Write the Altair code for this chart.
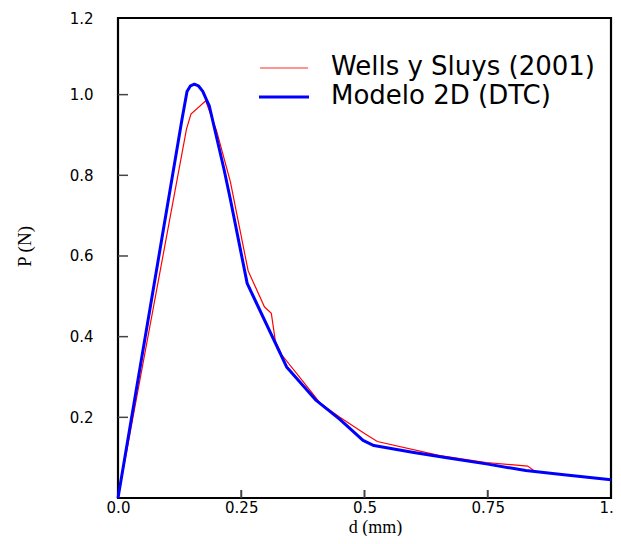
import altair as alt
import pandas as pd

# Wells y Sluys (2001) -- experimental curve
wells_d = [0.0, 0.139, 0.148, 0.178, 0.200, 0.228, 0.264, 0.297, 0.311, 0.319, 0.332, 0.376,
           0.410, 0.450, 0.500, 0.526, 0.653, 0.747, 0.831, 0.846, 0.900, 1.0]
wells_p = [0.0, 0.915, 0.952, 0.985, 0.910, 0.784, 0.563, 0.474, 0.458, 0.390, 0.355, 0.288,
           0.235, 0.200, 0.160, 0.140, 0.105, 0.088, 0.079, 0.066, 0.058, 0.045]

# Modelo 2D (DTC)
model_d = [0.0, 0.130, 0.140, 0.147, 0.155, 0.163, 0.172, 0.180, 0.185, 0.215, 0.228, 0.262,
           0.342, 0.402, 0.450, 0.497, 0.519, 0.600, 0.667, 0.750, 0.827, 0.900, 1.0]
model_p = [0.0, 0.940, 1.008, 1.022, 1.026, 1.022, 1.008, 0.986, 0.973, 0.815, 0.740, 0.532,
           0.325, 0.242, 0.195, 0.143, 0.130, 0.113, 0.100, 0.084, 0.068, 0.058, 0.045]

series_names = ["Wells y Sluys (2001)", "Modelo 2D (DTC)"]
series_colors = ["#ff0000", "#0000ff"]

x_ticks = [0.0, 0.25, 0.5, 0.75, 1.0]
x_inner_ticks = [0.25, 0.5, 0.75]
y_top = 1.19
y_ticks = [0.2, 0.4, 0.6, 0.8, 1.0, y_top]
y_inner_ticks = [0.2, 0.4, 0.6, 0.8, 1.0]

df = pd.concat([
    pd.DataFrame({"d": wells_d, "P": wells_p, "serie": series_names[0], "o": range(len(wells_d))}),
    pd.DataFrame({"d": model_d, "P": model_p, "serie": series_names[1], "o": range(len(model_d))}),
])

W, H = 493, 480

xscale = alt.Scale(domain=[0, 1.0], nice=False, zero=False)
yscale = alt.Scale(domain=[0, y_top], nice=False, zero=False)

xaxis = alt.Axis(
    title="d (mm)", values=x_ticks, grid=False, ticks=False, domain=False,
    labelExpr="datum.value == 0 ? '0.0' : datum.value == 1 ? '1.0' : toString(datum.value)",
    labelFont="DejaVu Sans", labelFontSize=15, labelColor="#000", labelPadding=2,
    labelFlush=False, labelOverlap=False,
    titleFont="Liberation Serif", titleFontSize=18, titleFontWeight="normal", titleColor="#000",
    titleX=257, titleY=29, titleBaseline="middle", titleAlign="center",
)
yaxis = alt.Axis(
    title="P (N)", values=y_ticks, format=".1f", grid=False, ticks=False, domain=False,
    labelFont="DejaVu Sans", labelFontSize=15, labelColor="#000", labelPadding=25,
    labelFlush=False, labelOverlap=False,
    titleFont="Liberation Serif", titleFontSize=19, titleFontWeight="normal", titleColor="#000",
    titleX=-94, titleY=228, titleBaseline="middle", titleAlign="center", titleAngle=270,
)

X = alt.X("d:Q", scale=xscale, axis=xaxis)
Y = alt.Y("P:Q", scale=yscale, axis=yaxis)

wells = alt.Chart(df[df.serie == series_names[0]]).mark_line(
    color=series_colors[0], strokeWidth=1.2
).encode(x=X, y=Y, order="o:Q")

model = alt.Chart(df[df.serie == series_names[1]]).mark_line(
    color=series_colors[1], strokeWidth=3, strokeJoin="round"
).encode(x=X, y=Y, order="o:Q")

ytk = alt.Chart(pd.DataFrame({"P": y_inner_ticks})).mark_rule(color="#444", strokeWidth=1.5).encode(
    y=Y, x=alt.value(0), x2=alt.value(10))
xtk = alt.Chart(pd.DataFrame({"d": x_inner_ticks})).mark_rule(color="#444", strokeWidth=2).encode(
    x=X, y=alt.value(H), y2=alt.value(H - 8))

leg_df = pd.DataFrame({"label": series_names, "color": series_colors})
leg_red_line = alt.Chart(leg_df.iloc[[0]]).mark_rule(color="#ff7070", strokeWidth=1.5).encode(
    x=alt.value(142), x2=alt.value(190), y=alt.value(50))
leg_blue_line = alt.Chart(leg_df.iloc[[1]]).mark_rule(color="#0000ff", strokeWidth=3).encode(
    x=alt.value(141), x2=alt.value(191), y=alt.value(79))
leg_red_text = alt.Chart(leg_df.iloc[[0]]).mark_text(
    align="left", baseline="middle", font="DejaVu Sans", fontSize=26, color="#000"
).encode(text="label:N", x=alt.value(213), y=alt.value(49))
leg_blue_text = alt.Chart(leg_df.iloc[[1]]).mark_text(
    align="left", baseline="middle", font="DejaVu Sans", fontSize=26, color="#000"
).encode(text="label:N", x=alt.value(213), y=alt.value(78))

chart = alt.layer(
    wells, model, ytk, xtk, leg_red_line, leg_blue_line, leg_red_text, leg_blue_text
).properties(
    width=W, height=H,
    autosize=alt.AutoSizeParams(type="none"),
    padding={"left": 110, "top": 10, "right": 2, "bottom": 38},
    background="white",
).configure_view(stroke="#000", strokeWidth=2.2)

chart.save("out.html", embed_options={"renderer": "svg", "actions": False})
